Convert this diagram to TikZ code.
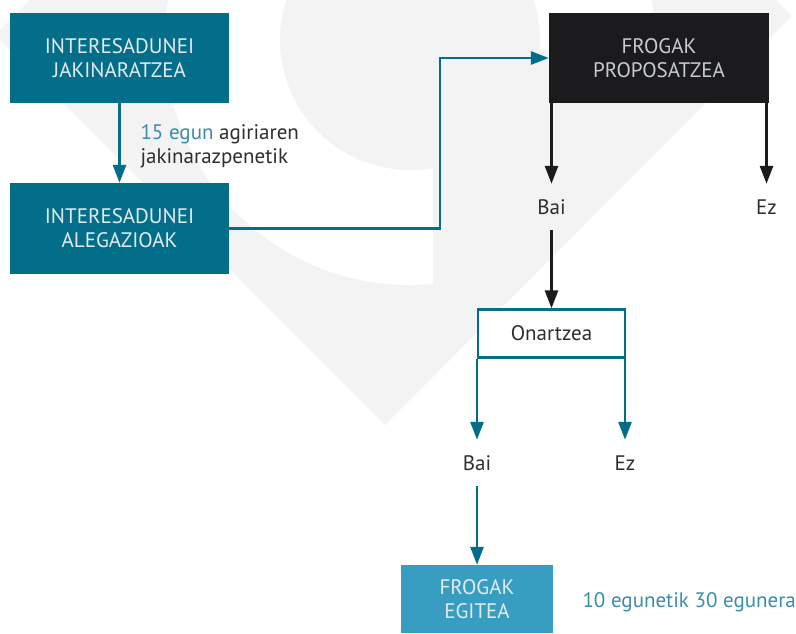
\documentclass[tikz,border=0pt]{standalone}
\usepackage{fontspec}
\setmainfont{PT Sans}
\usetikzlibrary{arrows.meta}
\definecolor{darkteal}{HTML}{036E8A}
\definecolor{lightteal}{HTML}{379EC2}
\definecolor{dayteal}{HTML}{3A8DA9}
\definecolor{ink}{HTML}{1B1A1C}
\definecolor{textgray}{HTML}{2E2E2E}
\definecolor{boxtext}{HTML}{E4EBEE}
\definecolor{wmgray}{HTML}{F3F3F3}
\begin{document}
\begin{tikzpicture}[x=1pt,y=-1pt,line join=miter]
  \tikzstyle{box}=[rectangle,inner sep=0pt,align=center,text=boxtext,font=\fontsize{21}{24}\selectfont]
  \tikzstyle{answer}=[inner sep=0pt,minimum height=46pt,text=textgray,font=\fontsize{21}{24}\selectfont]
  \tikzstyle{tealarr}=[-{Triangle[length=18pt,width=13pt]},line width=2.8pt,darkteal]
  \tikzstyle{blackarr}=[-{Triangle[length=18pt,width=13pt]},line width=2.8pt,ink]
  \useasboundingbox (0,0) rectangle (796,633);
  \begin{scope}
    \clip (0,0) rectangle (796,633);
    \fill[wmgray] (-5,35) -- (403,-373) -- (792,16) -- (385,425) -- cycle;
    \fill[white] (433,284) arc[start angle=84.6,end angle=362.3,radius=245] -- (539.6,50)
      arc[start angle=364.4,end angle=79.8,radius=130] -- cycle;
  \end{scope}

  \node[box,fill=darkteal,minimum width=219pt,minimum height=90pt] (A) at (119.5,58) {INTERESADUNEI\\JAKINARATZEA};
  \node[box,fill=darkteal,minimum width=219pt,minimum height=91pt] (B) at (119.5,228.5) {INTERESADUNEI\\ALEGAZIOAK};
  \node[box,fill=ink,text=boxtext!85!ink,minimum width=220pt,minimum height=90pt] (C) at (659,58) {FROGAK\\PROPOSATZEA};
  \node[answer] (bai1) at (551.5,207) {Bai};
  \node[answer] (ez1) at (766.5,207) {Ez};
  \node[box,draw=darkteal,line width=2.8pt,fill=white,text=textgray,minimum width=147pt,minimum height=47.5pt] (D) at (551.5,333.5) {Onartzea};
  \node[answer] (bai2) at (477,463) {Bai};
  \node[answer] (ez2) at (625,463) {Ez};
  \node[box,fill=lightteal,minimum width=152pt,minimum height=68pt] (E) at (477,599) {FROGAK\\EGITEA};
  \node[anchor=west,align=left,text=textgray,font=\fontsize{21}{24}\selectfont] (days1) at (137,146) {\textcolor{dayteal}{15 egun} agiriaren\\jakinarazpenetik};
  \node[anchor=west,text=dayteal,font=\fontsize{21}{24}\selectfont] (days2) at (579,602) {10 egunetik 30 egunera};

  \coordinate (turn) at (440,58);
  \draw[tealarr] (A) -- (B);
  \draw[tealarr] (B.east) -| (turn) -- (C.west);
  \draw[blackarr] (C.south -| bai1) -- (bai1);
  \draw[blackarr] (C.south -| ez1) -- (ez1);
  \draw[blackarr] (bai1) -- (D);
  \draw[tealarr] (D.south -| bai2) -- (bai2);
  \draw[tealarr] (D.south -| ez2) -- (ez2);
  \draw[tealarr] (bai2) -- (E);
\end{tikzpicture}
\end{document}
